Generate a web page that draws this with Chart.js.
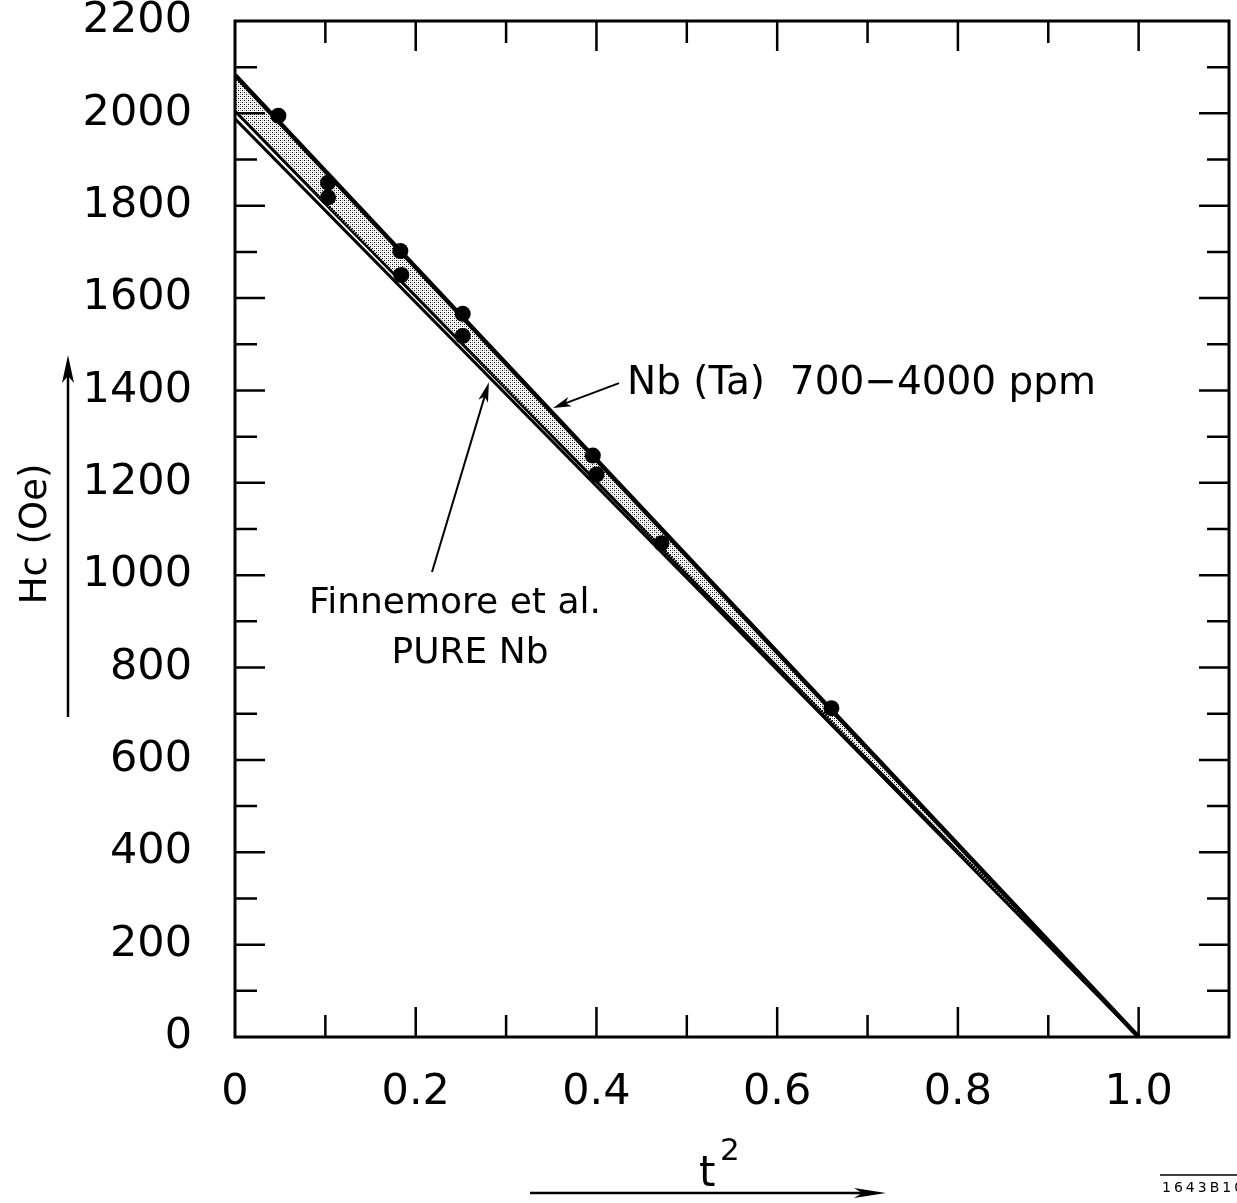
<!DOCTYPE html>
<html>
<head>
<meta charset="utf-8">
<script src="https://cdn.jsdelivr.net/npm/chart.js@4.4.0/dist/chart.umd.min.js"></script>
<style>
  body { margin: 0; background: #fff; }
  canvas { display: block; }
</style>
</head>
<body>
<canvas id="hcChart" width="1237" height="1203"></canvas>
<script>
// straight-line fits, t^2 = 0 .. 1
const t2Line = [0, 1.0]
const hcNbTaUpper = [2083, 0]
const hcPureNbUpper = [2005, 0]
const hcPureNbLower = [1988, 0]

// measured points
const t2Points = [0.048, 0.103, 0.103, 0.183, 0.184, 0.252, 0.252, 0.396, 0.400, 0.472, 0.660]
const hcPoints = [1995, 1850, 1818, 1702, 1650, 1566, 1518, 1259, 1218, 1069, 712]

// axes
const xTicks = [0, 0.2, 0.4, 0.6, 0.8, 1.0]
const yTicks = [0, 200, 400, 600, 800, 1000, 1200, 1400, 1600, 1800, 2000, 2200]

const FONT = 'DejaVu Sans'

function toXY(xs, ys) {
  return xs.map((x, i) => ({ x: x, y: ys[i] }))
}

// stipple for the shaded band
function stipple() {
  const c = document.createElement('canvas')
  c.width = 4; c.height = 4
  const g = c.getContext('2d')
  g.fillStyle = '#000'
  g.fillRect(0, 0, 1, 1)
  g.fillRect(2, 2, 1, 1)
  g.fillStyle = '#999'
  g.fillRect(2, 0, 1, 1)
  g.fillRect(0, 2, 1, 1)
  return g.createPattern(c, 'repeat')
}

function arrow(ctx, x1, y1, x2, y2, headLen, headW, lw) {
  const ang = Math.atan2(y2 - y1, x2 - x1)
  ctx.lineWidth = lw
  ctx.beginPath()
  ctx.moveTo(x1, y1)
  ctx.lineTo(x2 - Math.cos(ang) * headLen * 0.6, y2 - Math.sin(ang) * headLen * 0.6)
  ctx.stroke()
  ctx.beginPath()
  ctx.moveTo(x2, y2)
  ctx.lineTo(x2 - Math.cos(ang) * headLen + Math.sin(ang) * headW, y2 - Math.sin(ang) * headLen - Math.cos(ang) * headW)
  ctx.lineTo(x2 - Math.cos(ang) * headLen * 0.75, y2 - Math.sin(ang) * headLen * 0.75)
  ctx.lineTo(x2 - Math.cos(ang) * headLen - Math.sin(ang) * headW, y2 - Math.sin(ang) * headLen + Math.cos(ang) * headW)
  ctx.closePath()
  ctx.fill()
}

const frame = {
  id: 'frame',
  afterDraw(chart) {
    const ctx = chart.ctx
    const a = chart.chartArea
    const x = chart.scales.x
    const y = chart.scales.y
    ctx.save()
    ctx.strokeStyle = '#000'
    ctx.fillStyle = '#000'
    ctx.lineWidth = 3
    ctx.strokeRect(a.left, a.top, a.right - a.left, a.bottom - a.top)

    // inward ticks on all four sides
    ctx.lineWidth = 2.5
    ctx.beginPath()
    for (let i = 1; i <= 10; i++) {
      const px = x.getPixelForValue(i / 10)
      const len = i % 2 === 0 ? 30 : 22
      ctx.moveTo(px, a.bottom); ctx.lineTo(px, a.bottom - len)
      ctx.moveTo(px, a.top); ctx.lineTo(px, a.top + len)
    }
    for (let i = 1; i <= 21; i++) {
      const py = y.getPixelForValue(i * 100)
      const len = i % 2 === 0 ? 30 : 22
      ctx.moveTo(a.left, py); ctx.lineTo(a.left + len, py)
      ctx.moveTo(a.right, py); ctx.lineTo(a.right - len, py)
    }
    ctx.stroke()

    // axis titles with arrows
    ctx.font = '37px "' + FONT + '"'
    ctx.textAlign = 'center'
    ctx.textBaseline = 'middle'
    ctx.save()
    ctx.translate(36, 534)
    ctx.rotate(-Math.PI / 2)
    ctx.fillText('Hc (Oe)', 0, 0)
    ctx.restore()
    arrow(ctx, 68, 717, 68, 355, 28, 6, 2.5)

    ctx.textBaseline = 'alphabetic'
    ctx.textAlign = 'left'
    ctx.font = '42px "' + FONT + '"'
    ctx.fillText('t', 699, 1186)
    ctx.font = '31px "' + FONT + '"'
    ctx.fillText('2', 720, 1160)
    arrow(ctx, 530, 1193, 886, 1193, 32, 5, 2.5)

    // labels on the curves
    ctx.font = '39px "' + FONT + '"'
    ctx.fillText('Nb (Ta)  700\u22124000 ppm', 627, 394)
    arrow(ctx, x.getPixelForValue(0.425), y.getPixelForValue(1416),
      x.getPixelForValue(0.352), y.getPixelForValue(1362), 18, 5, 2)

    ctx.font = '36px "' + FONT + '"'
    ctx.textAlign = 'center'
    ctx.fillText('Finnemore et al.', 455, 613)
    ctx.fillText('PURE Nb', 470, 663)
    arrow(ctx, x.getPixelForValue(0.218), y.getPixelForValue(1007),
      x.getPixelForValue(0.281), y.getPixelForValue(1418), 20, 5, 2)

    // figure number
    ctx.lineWidth = 1.5
    ctx.beginPath()
    ctx.moveTo(1160, 1175); ctx.lineTo(1237, 1175)
    ctx.stroke()
    ctx.textAlign = 'left'
    ctx.font = '14px "' + FONT + '"'
    ctx.letterSpacing = '3px'
    ctx.fillText('1643B10', 1162, 1192)
    ctx.restore()
  }
}

new Chart(document.getElementById('hcChart'), {
  type: 'scatter',
  data: {
    datasets: [
      {
        label: 'Nb (Ta) 700-4000 ppm',
        data: toXY(t2Line, hcNbTaUpper),
        showLine: true,
        borderColor: '#000',
        borderWidth: 4.5,
        pointRadius: 0,
        fill: '+1',
        backgroundColor: stipple()
      },
      {
        label: 'Finnemore et al. upper',
        data: toXY(t2Line, hcPureNbUpper),
        showLine: true,
        borderColor: '#000',
        borderWidth: 3,
        pointRadius: 0
      },
      {
        label: 'Finnemore et al. lower',
        data: toXY(t2Line, hcPureNbLower),
        showLine: true,
        borderColor: '#000',
        borderWidth: 3,
        pointRadius: 0
      },
      {
        label: 'data',
        data: toXY(t2Points, hcPoints),
        pointRadius: 8,
        pointBackgroundColor: '#000',
        pointBorderWidth: 0,
        order: -1
      }
    ]
  },
  options: {
    responsive: false,
    animation: false,
    devicePixelRatio: 1,
    layout: { padding: { top: 21, right: 1, left: 0, bottom: 0 } },
    plugins: {
      legend: { display: false },
      tooltip: { enabled: false }
    },
    scales: {
      x: {
        type: 'linear',
        min: 0,
        max: 1.1,
        grid: { display: false },
        border: { display: false },
        afterBuildTicks: (s) => { s.ticks = xTicks.map(v => ({ value: v })) },
        afterFit: (s) => {
          s.height = 166
          s.paddingLeft = 0
          s.paddingRight = 0
        },
        ticks: {
          padding: 22,
          color: '#000',
          font: { family: FONT, size: 43 },
          callback: (v) => v === 0 ? '0' : Number(v).toFixed(1)
        }
      },
      y: {
        type: 'linear',
        min: 0,
        max: 2200,
        grid: { display: false },
        border: { display: false },
        afterBuildTicks: (s) => { s.ticks = yTicks.map(v => ({ value: v })) },
        afterFit: (s) => {
          s.width = 235
          s.paddingTop = 0
          s.paddingBottom = 0
        },
        ticks: {
          padding: 35,
          color: '#000',
          font: { family: FONT, size: 43 },
          callback: (v) => String(v)
        }
      }
    }
  },
  plugins: [frame]
})
</script>
</body>
</html>
